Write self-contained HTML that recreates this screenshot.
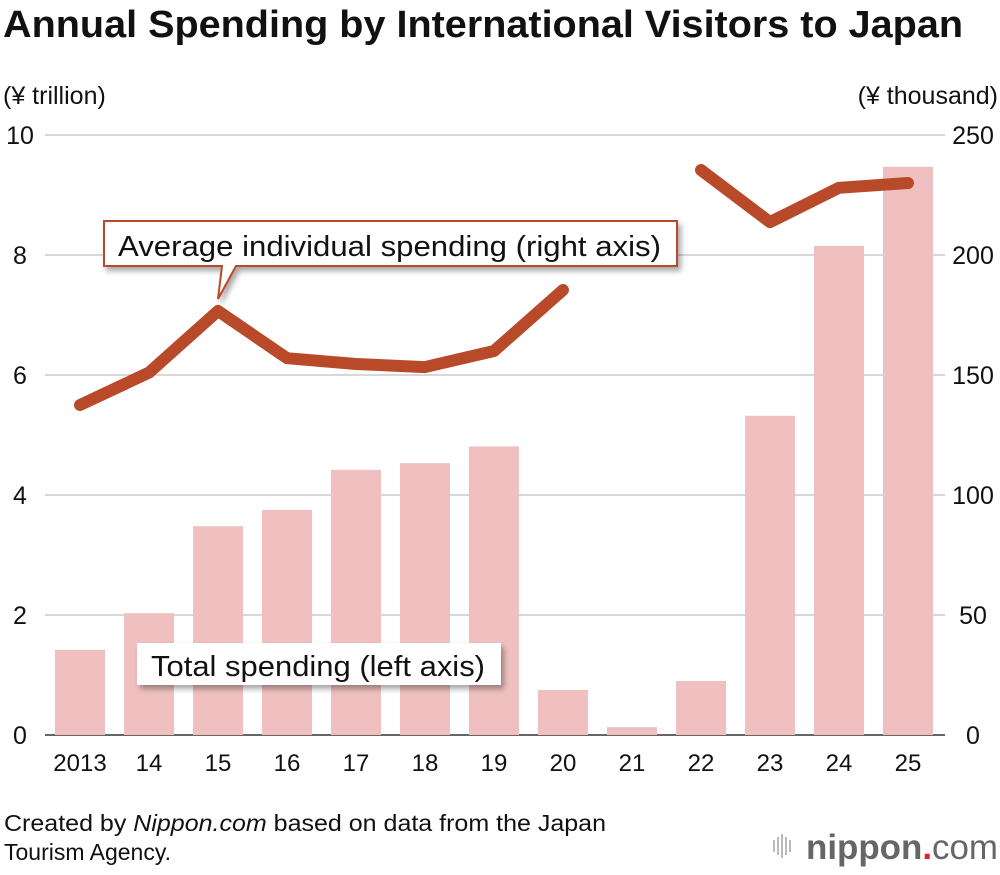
<!DOCTYPE html>
<html><head><meta charset="utf-8"><style>
body{margin:0;background:#fff;font-family:"Liberation Sans",Arial,sans-serif}
svg text{font-family:"Liberation Sans",Arial,sans-serif}
</style></head><body>
<svg id="c" width="1000" height="870" viewBox="0 0 1000 870">
<defs><filter id="sh" x="-10%" y="-30%" width="130%" height="180%"><feDropShadow dx="3" dy="4" stdDeviation="3" flood-color="#000" flood-opacity="0.35"/></filter></defs>
<text x="3" y="37" font-size="38" font-weight="bold" fill="#111" textLength="960" lengthAdjust="spacingAndGlyphs">Annual Spending by International Visitors to Japan</text>
<text x="3" y="104" font-size="25" fill="#111">(¥ trillion)</text>
<text x="998" y="104" font-size="25" fill="#111" text-anchor="end">(¥ thousand)</text>
<g id="grid"></g><g id="bars"></g><g id="line"></g><g id="ax"></g>
<g filter="url(#sh)">
<path d="M104,221 H677 V266 H236 L218,299 L222,266 H104 Z" fill="#fff" stroke="#b84a2a" stroke-width="2"/>
</g>
<text x="118" y="256" font-size="29" fill="#111" textLength="543" lengthAdjust="spacingAndGlyphs">Average individual spending (right axis)</text>
<rect x="137" y="643" width="364" height="42" fill="#fff" filter="url(#sh)"/>
<text x="151" y="676" font-size="29" fill="#111" textLength="334" lengthAdjust="spacingAndGlyphs">Total spending (left axis)</text>
<text x="4" y="831" font-size="23" fill="#111" textLength="602" lengthAdjust="spacingAndGlyphs">Created by <tspan font-style="italic">Nippon.com</tspan> based on data from the Japan</text>
<text x="4" y="860" font-size="23" fill="#111">Tourism Agency.</text>
<g>
<g fill="#bbb"><rect x="773" y="840" width="2" height="12"/><rect x="777" y="837" width="2" height="18"/><rect x="781" y="834" width="2" height="24"/><rect x="785" y="837" width="2" height="18"/><rect x="789" y="840" width="2" height="12"/></g>
<text x="806" y="859" font-size="35" font-weight="bold" fill="#666" textLength="192" lengthAdjust="spacingAndGlyphs">nippon<tspan fill="#e0202a">.</tspan><tspan font-weight="normal">com</tspan></text>
</g>
</svg>
<script>
const categories=["2013","14","15","16","17","18","19","20","21","22","23","24","25"];
const totalSpending=[1.42,2.03,3.48,3.75,4.42,4.53,4.81,0.75,0.13,0.9,5.32,8.15,9.47];
const avgSpending=[137.5,151,176.7,157,154.6,153.3,160,185.4,null,235.4,213.7,228,230];
const leftTicks=[0,2,4,6,8,10];
const rightTicks=[0,50,100,150,200,250];
const NS="http://www.w3.org/2000/svg";
const x0=45,x1=945,yB=735,yT=135,step=69,first=80;
const xOf=i=>first+i*step;
const yL=v=>yB-(v/10)*(yB-yT);
const yR=v=>yB-(v/250)*(yB-yT);
function mk(t,a,p){const e=document.createElementNS(NS,t);for(const k in a)e.setAttribute(k,a[k]);p.appendChild(e);return e;}
const g=document.getElementById('grid'),b=document.getElementById('bars'),l=document.getElementById('line'),ax=document.getElementById('ax');
leftTicks.forEach((v,i)=>{
 const ln=mk('line',{x1:x0,x2:x1,y1:yL(v),y2:yL(v),stroke:v===0?'#333':'#ccc','stroke-width':1.5},g);
 
 
 const t=mk('text',{x:20,y:yL(v)+9,'font-size':25,'text-anchor':'middle',fill:'#111'},ax);t.textContent=v;
 
 
 const r=mk('text',{x:973,y:yR(rightTicks[i])+9,'font-size':25,'text-anchor':'middle',fill:'#111'},ax);r.textContent=rightTicks[i];
 
 
});
categories.forEach((c,i)=>{
 const r=mk('rect',{x:xOf(i)-25,y:yL(totalSpending[i]),width:50,height:yB-yL(totalSpending[i]),fill:'#f0c0c0'},b);
 
 
 const t=mk('text',{x:xOf(i),y:771,'font-size':24,'text-anchor':'middle',fill:'#111'},ax);t.textContent=c;
 
 
});
let segs=[],cur=[];
avgSpending.forEach((v,i)=>{if(v==null){if(cur.length)segs.push(cur);cur=[];}else cur.push(xOf(i)+','+yR(v));});
if(cur.length)segs.push(cur);
segs.forEach(s=>{
 const p=mk('polyline',{points:s.join(' '),fill:'none',stroke:'#b84a2a','stroke-width':12,'stroke-linecap':'round','stroke-linejoin':'round'},l);
 
 
});
</script>
</body></html>
